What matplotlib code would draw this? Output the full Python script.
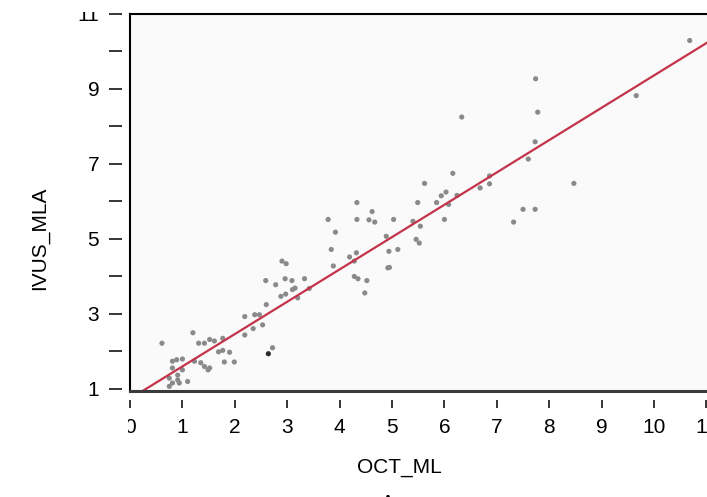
import numpy as np
import matplotlib
matplotlib.use("Agg")
import matplotlib.pyplot as plt
from matplotlib.lines import Line2D
from matplotlib.patches import Rectangle

plt.rcParams['font.family'] = ['Liberation Sans', 'DejaVu Sans']

# Данные
oct_ml = [0.61, 1.20, 1.31, 1.42, 1.52, 1.61, 1.77, 1.69, 1.77, 1.90,
          1.80, 1.99, 2.19, 2.38, 2.35, 2.19, 0.81, 0.89, 1.00, 1.23,
          1.35, 1.42, 1.49, 1.52, 0.81, 1.00, 0.91, 0.75, 0.91, 1.10,
          0.81, 0.94, 0.75, 2.47, 2.53, 2.64, 2.72, 2.60, 2.59, 2.78,
          2.90, 2.98, 2.96, 3.09, 3.15, 3.10, 2.88, 2.97, 3.20, 3.33,
          3.42, 3.78, 3.92, 3.84, 3.88, 4.19, 4.32, 4.28, 4.33, 4.33,
          4.28, 4.35, 4.52, 4.48, 4.62, 4.56, 4.67, 5.03, 4.89, 4.94,
          5.11, 4.95, 4.92, 5.49, 5.40, 5.54, 5.46, 5.52, 5.62, 5.85,
          5.94, 6.03, 6.24, 6.08, 6.00, 6.16, 6.68, 6.86, 6.86, 6.33,
          7.32, 7.50, 7.73, 7.60, 7.73, 7.74, 7.78, 8.47, 9.66, 10.68]
ivus_mla = [2.22, 2.50, 2.22, 2.22, 2.32, 2.28, 2.35, 1.99, 2.03, 1.98,
            1.72, 1.72, 2.93, 2.98, 2.61, 2.44, 1.74, 1.78, 1.80, 1.74,
            1.70, 1.60, 1.51, 1.56, 1.56, 1.51, 1.37, 1.29, 1.24, 1.20,
            1.16, 1.16, 1.07, 2.98, 2.71, 1.94, 2.10, 3.25, 3.89, 3.78,
            4.41, 4.34, 3.94, 3.89, 3.69, 3.65, 3.47, 3.53, 3.43, 3.94,
            3.68, 5.52, 5.18, 4.72, 4.28, 4.52, 4.63, 4.41, 5.97, 5.52,
            4.00, 3.94, 3.89, 3.56, 5.73, 5.51, 5.45, 5.52, 5.07, 4.67,
            4.72, 4.24, 4.23, 5.97, 5.47, 5.34, 4.99, 4.89, 6.48, 5.97,
            6.15, 6.25, 6.16, 5.92, 5.52, 6.75, 6.36, 6.47, 6.68, 8.25,
            5.45, 5.79, 5.79, 7.13, 7.59, 9.27, 8.38, 6.48, 8.82, 10.29]

# линия регрессии (коэффициенты с картинки)
fit_intercept = 0.74
fit_slope = 0.862

x_ticks = list(range(0, 12))
y_ticks = list(range(1, 12))
y_tick_labels = [str(v) if v % 2 == 1 else '' for v in y_ticks]

W, H = 707, 497
fig = plt.figure(figsize=(W / 100, H / 100), dpi=100)
ax = fig.add_axes([130 / W, 106.5 / H, 577 / W, 377 / H])
ax.set_facecolor('#fafafa')

colors = ['#8a8a8a'] * len(oct_ml)
colors[35] = '#2a2a2a'
ax.scatter(oct_ml, ivus_mla, s=14, c=colors, edgecolors='none', zorder=3)
ax.axline((0, fit_intercept), slope=fit_slope, color='#c3334a', lw=1.6, zorder=4)

ax.set_xlim(0, 11.01)
ax.set_ylim(0.96, 11.01)
ax.set_xticks(x_ticks)
ax.set_xticklabels([str(v) for v in x_ticks])
ax.set_yticks(y_ticks)
ax.set_yticklabels(y_tick_labels)

# отодвинутые от рамки деления
ax.spines['left'].set_position(('outward', 5.8))
ax.spines['bottom'].set_position(('outward', 6.8))
for s in ax.spines.values():
    s.set_color('none')
ax.tick_params(axis='y', length=9.4, width=1.1, pad=7, labelsize=15, colors='black')
ax.tick_params(axis='x', length=5.4, width=1.1, pad=7.5, labelsize=15, colors='black')

# рамка
ax.add_line(Line2D([0, 0], [0, 1], transform=ax.transAxes, color='black', lw=1.5, clip_on=False, zorder=5))
ax.add_line(Line2D([0, 1], [1, 1], transform=ax.transAxes, color='black', lw=1.5, clip_on=False, zorder=5))
ax.add_line(Line2D([0, 1], [0, 0], transform=ax.transAxes, color='#3a3a3a', lw=2.2, clip_on=False, zorder=5))

ax.set_xlabel('OCT_ML', fontsize=15)
ax.xaxis.label.set_va('center')
ax.xaxis.set_label_coords(0.466, -0.205)
ax.set_ylabel('IVUS_MLA', fontsize=15)
ax.yaxis.label.set_va('center')
ax.yaxis.set_label_coords(-0.156, 0.405)

# обрезанные края исходной картинки
fig.text(388 / W, 3 / H, 'A', fontsize=15, ha='center', va='top')
fig.patches.append(Rectangle((0, 1 - 12 / H), 1, 12 / H, transform=fig.transFigure,
                             facecolor='white', edgecolor='none', zorder=10))
fig.patches.append(Rectangle((0, 1 - 445 / H), 128 / W, 33 / H, transform=fig.transFigure,
                             facecolor='white', edgecolor='none', zorder=10))

fig.savefig('out.png', dpi=100)
